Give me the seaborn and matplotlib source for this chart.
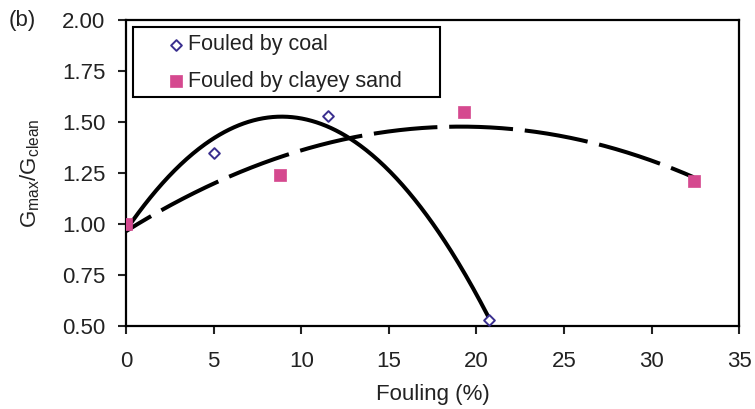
import numpy as np
import pandas as pd
import matplotlib
matplotlib.use("Agg")
import matplotlib.pyplot as plt
from matplotlib.patches import Rectangle
import seaborn as sns

# Data
coal_x = [0.0, 5.0, 11.5, 20.7]
coal_y = [1.00, 1.35, 1.53, 0.53]
sand_x = [0.0, 8.8, 19.3, 32.4]
sand_y = [1.00, 1.24, 1.55, 1.21]
x_ticks = [0, 5, 10, 15, 20, 25, 30, 35]
y_ticks = [0.50, 0.75, 1.00, 1.25, 1.50, 1.75, 2.00]

sns.set_style("ticks")
plt.rcParams['font.family'] = ['Liberation Sans', 'DejaVu Sans']
plt.rcParams['mathtext.fontset'] = 'custom'
plt.rcParams['mathtext.rm'] = 'Liberation Sans'
plt.rcParams['mathtext.it'] = 'Liberation Sans'
plt.rcParams['lines.scale_dashes'] = False

TXT = "#222222"
fig = plt.figure(figsize=(7.55, 4.09), dpi=100)
ax = fig.add_axes([0.167, 0.203, 0.812, 0.748])

# quadratic trend lines fitted to the data
cx = np.linspace(min(coal_x), max(coal_x), 300)
cc = np.polyfit(coal_x, coal_y, 2)
sx = np.linspace(min(sand_x), max(sand_x), 300)
sc = np.polyfit(sand_x, sand_y, 2)
coal_fit = pd.DataFrame({"x": cx, "y": np.polyval(cc, cx)})
sand_fit = pd.DataFrame({"x": sx, "y": np.polyval(sc, sx)})

sns.lineplot(data=coal_fit, x="x", y="y", ax=ax, color="black", lw=2.9, sort=False)
sns.lineplot(data=sand_fit, x="x", y="y", ax=ax, color="black", lw=2.9, sort=False)
dl = ax.lines[-1]
dl.set_linestyle((25, (46, 8.5)))
dl.set_dash_capstyle("butt")

coal_df = pd.DataFrame({"x": coal_x, "y": coal_y})
sand_df = pd.DataFrame({"x": sand_x, "y": sand_y})
sns.scatterplot(data=coal_df, x="x", y="y", ax=ax, marker="D", s=30,
                facecolor="white", edgecolor="#3a2f8f", linewidth=1.4,
                label="Fouled by coal", zorder=4)
sns.scatterplot(data=sand_df, x="x", y="y", ax=ax, marker="s", s=80,
                color="#d5498f", edgecolor="#d5498f", linewidth=0.5,
                label="Fouled by clayey sand", zorder=5)

ax.set_xlim(0, 35)
ax.set_ylim(0.5, 2.0)
ax.set_xticks(x_ticks)
ax.set_yticks(y_ticks)
ax.set_yticklabels([f"{v:.2f}" for v in y_ticks])
ax.tick_params(labelsize=16, colors=TXT, direction="out", length=6, width=1.5)
ax.tick_params(axis="x", pad=12)
ax.tick_params(axis="y", pad=9)
for s in ax.spines.values():
    s.set_visible(True)
    s.set_linewidth(1.6)
    s.set_color("black")

ax.set_xlabel("Fouling (%)", fontsize=16, color=TXT, labelpad=9)
ax.set_ylabel(r"G$_{\mathrm{max}}$/G$_{\mathrm{clean}}$", fontsize=16, color=TXT)
ax.yaxis.set_label_coords(-0.137, 0.5)

leg = ax.legend(loc="upper left", bbox_to_anchor=(0.068, 0.953), fontsize=15.5,
                frameon=False, handletextpad=0.15, borderpad=0.0,
                labelspacing=0.72, handlelength=0.8, borderaxespad=0.0)
for t in leg.get_texts():
    t.set_color(TXT)

# legend frame (wider than the entries, as in the reference)
ax.add_patch(Rectangle((0.011, 0.748), 0.501, 0.229, transform=ax.transAxes,
                       fill=False, edgecolor="black", linewidth=1.5, zorder=6))

fig.text(0.012, 0.949, "(b)", fontsize=16, color=TXT, va="center")

fig.savefig("out.png", dpi=100)
